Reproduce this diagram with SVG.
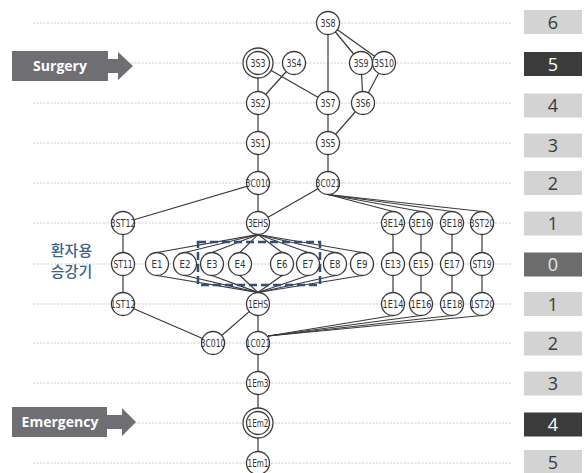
<svg xmlns="http://www.w3.org/2000/svg" width="584" height="473" viewBox="0 0 584 473">
<style>
.row{stroke:#cacaca;stroke-width:1;stroke-dasharray:2 1.5}
.edge line{stroke:#3a3a3a;stroke-width:1.2}
.node circle{fill:#fff;stroke:#3a3a3a;stroke-width:1.3}
.node text{font-family:"DejaVu Sans Condensed","DejaVu Sans",sans-serif;font-stretch:condensed;font-size:10.5px;fill:#333;text-anchor:middle}
.arrow{fill:#6e6e73}
.arrow text{font-family:"Open Sans","Liberation Sans",sans-serif;font-weight:bold;font-size:14px;fill:#fff;text-anchor:middle}
.lvl text{font-family:"Open Sans","Liberation Sans",sans-serif;font-size:18px;text-anchor:middle}
.lt rect{fill:#d3d3d3}.lt text{fill:#3a3a3a}
.dk rect{fill:#3b3b3b}.dk text{fill:#fff}
.md rect{fill:#6c6c6c}.md text{fill:#e6e6e6}
</style>
<rect width="584" height="473" fill="#fff"/>
<g id="rows">
<line class="row" x1="33" y1="23" x2="512" y2="23"/>
<line class="row" x1="33" y1="63" x2="512" y2="63"/>
<line class="row" x1="33" y1="103" x2="512" y2="103"/>
<line class="row" x1="33" y1="143" x2="512" y2="143"/>
<line class="row" x1="33" y1="183" x2="512" y2="183"/>
<line class="row" x1="33" y1="223" x2="512" y2="223"/>
<line class="row" x1="33" y1="264" x2="512" y2="264"/>
<line class="row" x1="33" y1="304" x2="512" y2="304"/>
<line class="row" x1="33" y1="343" x2="512" y2="343"/>
<line class="row" x1="33" y1="383" x2="512" y2="383"/>
<line class="row" x1="33" y1="423" x2="512" y2="423"/>
<line class="row" x1="33" y1="463" x2="512" y2="463"/>
</g>
<g id="levels" class="lvl">
<g class="lt"><rect x="524" y="10" width="58" height="24"/><text x="553" y="28.5">6</text></g>
<g class="dk"><rect x="524" y="52" width="58" height="24"/><text x="553" y="70.5">5</text></g>
<g class="lt"><rect x="524" y="93.5" width="58" height="24"/><text x="553" y="112">4</text></g>
<g class="lt"><rect x="524" y="133.5" width="58" height="24"/><text x="553" y="152">3</text></g>
<g class="lt"><rect x="524" y="171" width="58" height="24"/><text x="553" y="189.5">2</text></g>
<g class="lt"><rect x="524" y="211.5" width="58" height="24"/><text x="553" y="230">1</text></g>
<g class="md"><rect x="524" y="252.5" width="58" height="24"/><text x="553" y="271">0</text></g>
<g class="lt"><rect x="524" y="292" width="58" height="24"/><text x="553" y="310.5">1</text></g>
<g class="lt"><rect x="524" y="331.5" width="58" height="24"/><text x="553" y="350">2</text></g>
<g class="lt"><rect x="524" y="371.5" width="58" height="24"/><text x="553" y="390">3</text></g>
<g class="dk"><rect x="524" y="412.5" width="58" height="24"/><text x="553" y="431">4</text></g>
<g class="lt"><rect x="524" y="450" width="58" height="24"/><text x="553" y="468.5">5</text></g>
</g>
<g id="surgery" class="arrow">
<path d="M12,51 H108 V59 H118 V52 L133,66 L118,80 V73 H108 V81 H12 Z"/>
<text x="60" y="71">Surgery</text>
</g>
<g id="emergency" class="arrow">
<path d="M12,407 H107 V415 H122 V408 L136,422 L122,436 V429 H107 V437 H12 Z"/>
<text x="60" y="427">Emergency</text>
</g>
<g id="elevator-label" font-family="'Noto Sans CJK KR',sans-serif" font-size="15" font-weight="500" fill="#3d6289" text-anchor="middle">
<text x="71.5" y="255.5">환자용</text>
<text x="71.5" y="276.5">승강기</text>
</g>
<g id="connectors" class="edge">
<line x1="328" y1="23" x2="328" y2="103"/>
<line x1="328" y1="23" x2="361" y2="63"/>
<line x1="328" y1="23" x2="384" y2="63"/>
<line x1="258" y1="63" x2="258" y2="103"/>
<line x1="258" y1="63" x2="328" y2="103"/>
<line x1="294" y1="63" x2="258" y2="103"/>
<line x1="361" y1="63" x2="363" y2="103"/>
<line x1="384" y1="63" x2="363" y2="103"/>
<line x1="258" y1="103" x2="258" y2="183"/>
<line x1="328" y1="103" x2="328" y2="183"/>
<line x1="363" y1="103" x2="328" y2="143"/>
<line x1="258" y1="183" x2="258" y2="223"/>
<line x1="258" y1="183" x2="123" y2="223"/>
<line x1="328" y1="183" x2="258" y2="223"/>
<line x1="328" y1="194.5" x2="393" y2="211.5"/>
<line x1="328" y1="194.5" x2="421" y2="211.5"/>
<line x1="328" y1="194.5" x2="452" y2="211.5"/>
<line x1="328" y1="194.5" x2="482" y2="211.5"/>
<line x1="123" y1="223" x2="123" y2="304"/>
<line x1="393" y1="223" x2="393" y2="304"/>
<line x1="421" y1="223" x2="421" y2="304"/>
<line x1="452" y1="223" x2="452" y2="304"/>
<line x1="482" y1="223" x2="482" y2="304"/>
<line x1="258" y1="234.5" x2="157" y2="252.5"/>
<line x1="258" y1="234.5" x2="185" y2="252.5"/>
<line x1="258" y1="234.5" x2="212" y2="252.5"/>
<line x1="258" y1="234.5" x2="240" y2="252.5"/>
<line x1="258" y1="234.5" x2="282" y2="252.5"/>
<line x1="258" y1="234.5" x2="308" y2="252.5"/>
<line x1="258" y1="234.5" x2="335" y2="252.5"/>
<line x1="258" y1="234.5" x2="362" y2="252.5"/>
<line x1="157" y1="275.5" x2="258" y2="292.5"/>
<line x1="185" y1="275.5" x2="258" y2="292.5"/>
<line x1="212" y1="275.5" x2="258" y2="292.5"/>
<line x1="240" y1="275.5" x2="258" y2="292.5"/>
<line x1="282" y1="275.5" x2="258" y2="292.5"/>
<line x1="308" y1="275.5" x2="258" y2="292.5"/>
<line x1="335" y1="275.5" x2="258" y2="292.5"/>
<line x1="362" y1="275.5" x2="258" y2="292.5"/>
<line x1="123" y1="304" x2="213" y2="343"/>
<line x1="258" y1="304" x2="213" y2="343"/>
<line x1="258" y1="304" x2="258" y2="463"/>
<line x1="268" y1="336" x2="393" y2="315.5"/>
<line x1="268" y1="336" x2="421" y2="315.5"/>
<line x1="268" y1="336" x2="452" y2="315.5"/>
<line x1="268" y1="336" x2="482" y2="315.5"/>
</g>
<g id="group-box">
<rect x="198" y="242" width="122" height="43" fill="none" stroke="#2d4e7e" stroke-width="2.5" stroke-dasharray="8 4"/>
</g>
<g id="n3S8" class="node"><circle cx="328" cy="23" r="11.5"/><text x="328" y="26.8" textLength="15" lengthAdjust="spacingAndGlyphs">3S8</text></g>
<g id="n3S3" class="node"><circle cx="258" cy="63" r="15"/><circle cx="258" cy="63" r="11.5"/><text x="258" y="66.8" textLength="15" lengthAdjust="spacingAndGlyphs">3S3</text></g>
<g id="n3S4" class="node"><circle cx="294" cy="63" r="11.5"/><text x="294" y="66.8" textLength="15" lengthAdjust="spacingAndGlyphs">3S4</text></g>
<g id="n3S9" class="node"><circle cx="361" cy="63" r="11.5"/><text x="361" y="66.8" textLength="15" lengthAdjust="spacingAndGlyphs">3S9</text></g>
<g id="n3S10" class="node"><circle cx="384" cy="63" r="11.5"/><text x="384" y="66.8" textLength="20" lengthAdjust="spacingAndGlyphs">3S10</text></g>
<g id="n3S2" class="node"><circle cx="258" cy="103" r="11.5"/><text x="258" y="106.8" textLength="15" lengthAdjust="spacingAndGlyphs">3S2</text></g>
<g id="n3S7" class="node"><circle cx="328" cy="103" r="11.5"/><text x="328" y="106.8" textLength="15" lengthAdjust="spacingAndGlyphs">3S7</text></g>
<g id="n3S6" class="node"><circle cx="363" cy="103" r="11.5"/><text x="363" y="106.8" textLength="15" lengthAdjust="spacingAndGlyphs">3S6</text></g>
<g id="n3S1" class="node"><circle cx="258" cy="143" r="11.5"/><text x="258" y="146.8" textLength="15" lengthAdjust="spacingAndGlyphs">3S1</text></g>
<g id="n3S5" class="node"><circle cx="328" cy="143" r="11.5"/><text x="328" y="146.8" textLength="15" lengthAdjust="spacingAndGlyphs">3S5</text></g>
<g id="n3C010" class="node"><circle cx="258" cy="183" r="11.5"/><text x="258" y="186.8" textLength="25" lengthAdjust="spacingAndGlyphs">3C010</text></g>
<g id="n3C021" class="node"><circle cx="328" cy="183" r="11.5"/><text x="328" y="186.8" textLength="25" lengthAdjust="spacingAndGlyphs">3C021</text></g>
<g id="n3ST12" class="node"><circle cx="123" cy="223" r="11.5"/><text x="123" y="226.8" textLength="25" lengthAdjust="spacingAndGlyphs">3ST12</text></g>
<g id="n3EHS" class="node"><circle cx="258" cy="223" r="11.5"/><text x="258" y="226.8" textLength="20" lengthAdjust="spacingAndGlyphs">3EHS</text></g>
<g id="n3E14" class="node"><circle cx="393" cy="223" r="11.5"/><text x="393" y="226.8" textLength="21" lengthAdjust="spacingAndGlyphs">3E14</text></g>
<g id="n3E16" class="node"><circle cx="421" cy="223" r="11.5"/><text x="421" y="226.8" textLength="21" lengthAdjust="spacingAndGlyphs">3E16</text></g>
<g id="n3E18" class="node"><circle cx="452" cy="223" r="11.5"/><text x="452" y="226.8" textLength="21" lengthAdjust="spacingAndGlyphs">3E18</text></g>
<g id="n3ST20" class="node"><circle cx="482" cy="223" r="11.5"/><text x="482" y="226.8" textLength="25" lengthAdjust="spacingAndGlyphs">3ST20</text></g>
<g id="nST11" class="node"><circle cx="123" cy="264" r="11.5"/><text x="123" y="267.8" textLength="19" lengthAdjust="spacingAndGlyphs">ST11</text></g>
<g id="nE1" class="node"><circle cx="157" cy="264" r="11.5"/><text x="157" y="267.8" textLength="11" lengthAdjust="spacingAndGlyphs">E1</text></g>
<g id="nE2" class="node"><circle cx="185" cy="264" r="11.5"/><text x="185" y="267.8" textLength="11" lengthAdjust="spacingAndGlyphs">E2</text></g>
<g id="nE3" class="node"><circle cx="212" cy="264" r="11.5"/><text x="212" y="267.8" textLength="11" lengthAdjust="spacingAndGlyphs">E3</text></g>
<g id="nE4" class="node"><circle cx="240" cy="264" r="11.5"/><text x="240" y="267.8" textLength="11" lengthAdjust="spacingAndGlyphs">E4</text></g>
<g id="nE6" class="node"><circle cx="282" cy="264" r="11.5"/><text x="282" y="267.8" textLength="11" lengthAdjust="spacingAndGlyphs">E6</text></g>
<g id="nE7" class="node"><circle cx="308" cy="264" r="11.5"/><text x="308" y="267.8" textLength="11" lengthAdjust="spacingAndGlyphs">E7</text></g>
<g id="nE8" class="node"><circle cx="335" cy="264" r="11.5"/><text x="335" y="267.8" textLength="11" lengthAdjust="spacingAndGlyphs">E8</text></g>
<g id="nE9" class="node"><circle cx="362" cy="264" r="11.5"/><text x="362" y="267.8" textLength="11" lengthAdjust="spacingAndGlyphs">E9</text></g>
<g id="nE13" class="node"><circle cx="393" cy="264" r="11.5"/><text x="393" y="267.8" textLength="16" lengthAdjust="spacingAndGlyphs">E13</text></g>
<g id="nE15" class="node"><circle cx="421" cy="264" r="11.5"/><text x="421" y="267.8" textLength="16" lengthAdjust="spacingAndGlyphs">E15</text></g>
<g id="nE17" class="node"><circle cx="452" cy="264" r="11.5"/><text x="452" y="267.8" textLength="16" lengthAdjust="spacingAndGlyphs">E17</text></g>
<g id="nST19" class="node"><circle cx="482" cy="264" r="11.5"/><text x="482" y="267.8" textLength="19" lengthAdjust="spacingAndGlyphs">ST19</text></g>
<g id="n1ST12" class="node"><circle cx="123" cy="304" r="11.5"/><text x="123" y="307.8" textLength="25" lengthAdjust="spacingAndGlyphs">1ST12</text></g>
<g id="n1EHS" class="node"><circle cx="258" cy="304" r="11.5"/><text x="258" y="307.8" textLength="20" lengthAdjust="spacingAndGlyphs">1EHS</text></g>
<g id="n1E14" class="node"><circle cx="393" cy="304" r="11.5"/><text x="393" y="307.8" textLength="21" lengthAdjust="spacingAndGlyphs">1E14</text></g>
<g id="n1E16" class="node"><circle cx="421" cy="304" r="11.5"/><text x="421" y="307.8" textLength="21" lengthAdjust="spacingAndGlyphs">1E16</text></g>
<g id="n1E18" class="node"><circle cx="452" cy="304" r="11.5"/><text x="452" y="307.8" textLength="21" lengthAdjust="spacingAndGlyphs">1E18</text></g>
<g id="n1ST20" class="node"><circle cx="482" cy="304" r="11.5"/><text x="482" y="307.8" textLength="25" lengthAdjust="spacingAndGlyphs">1ST20</text></g>
<g id="n3C010b" class="node"><circle cx="213" cy="343" r="11.5"/><text x="213" y="346.8" textLength="25" lengthAdjust="spacingAndGlyphs">3C010</text></g>
<g id="n1C021" class="node"><circle cx="258" cy="343" r="11.5"/><text x="258" y="346.8" textLength="25" lengthAdjust="spacingAndGlyphs">1C021</text></g>
<g id="n1Em3" class="node"><circle cx="258" cy="383" r="11.5"/><text x="258" y="386.8" textLength="21" lengthAdjust="spacingAndGlyphs">1Em3</text></g>
<g id="n1Em2" class="node"><circle cx="258" cy="423" r="15"/><circle cx="258" cy="423" r="11.5"/><text x="258" y="426.8" textLength="21" lengthAdjust="spacingAndGlyphs">1Em2</text></g>
<g id="n1Em1" class="node"><circle cx="258" cy="463" r="11.5"/><text x="258" y="466.8" textLength="21" lengthAdjust="spacingAndGlyphs">1Em1</text></g>
</svg>
